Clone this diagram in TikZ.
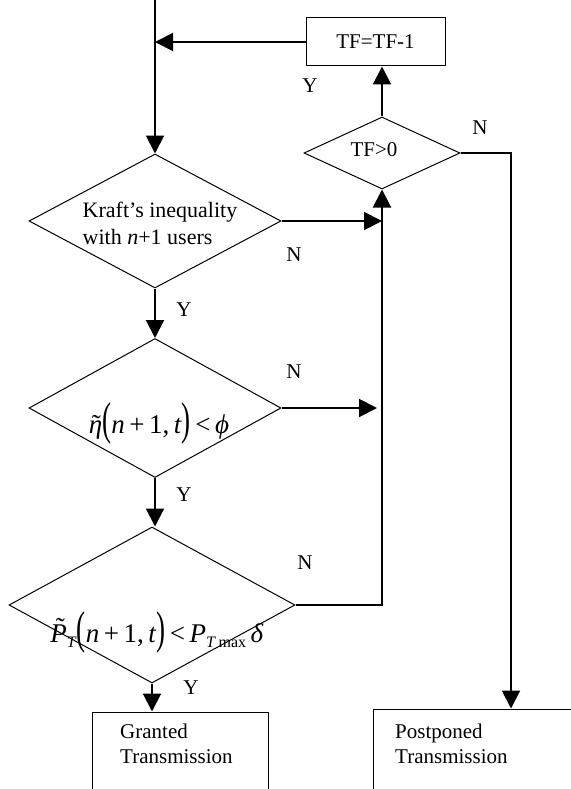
\documentclass[tikz,border=0pt]{standalone}
\usepackage{fontspec}
\setmainfont{Liberation Serif}
\usepackage{graphicx}
\usetikzlibrary{shapes.geometric,arrows.meta}

\newcommand\tildeover[3]{\ooalign{#3\cr\hidewidth\kern#1\raisebox{#2}{\char"02DC}\hidewidth\cr}}
\newcommand\tallpar[1]{\raisebox{-0.06em}{\scalebox{1}[1.7]{#1}}}
\newcommand\lowsub[1]{\raisebox{-0.2em}{\fontsize{16}{16}\selectfont #1}}

\begin{document}
\begin{tikzpicture}[x=1pt, y=-1pt,
    font=\fontsize{21}{25}\selectfont,
    decision/.style={diamond, draw, line width=1pt, inner sep=0pt},
    procbox/.style={rectangle, draw, line width=1pt, inner sep=0pt},
    flow/.style={line width=2pt, -{Triangle[length=18pt, width=18pt]}},
    answer/.style={inner sep=0pt},
    boxtext/.style={anchor=north west, align=left, inner sep=0pt},
    formula/.style={anchor=base, inner sep=0pt, font=\fontsize{27}{27}\selectfont}]
  \useasboundingbox (0,0) rectangle (570,789);
  % decisions
  \node[decision, minimum width=252pt, minimum height=134pt] (kraft) at (155,221) {};
  \node[decision, minimum width=252pt, minimum height=139pt] (eta) at (155,408) {};
  \node[decision, minimum width=286pt, minimum height=156pt] (pdec) at (152,605) {};
  \node[decision, minimum width=156pt, minimum height=72pt,
        label={[xshift=-8pt, yshift=3pt]center:TF>0}] (tfdec) at (382,153) {};
  % boxes
  \node[procbox, minimum width=139pt, minimum height=48pt] (tfbox) at (375.5,42) {TF=TF-1};
  \node[procbox, minimum width=176pt, minimum height=120pt] (grant) at (180,772) {};
  \node[procbox, minimum width=276pt, minimum height=120pt] (postp) at (511,769) {};
  % texts
  \node[align=left, inner sep=0pt, font=\fontsize{22}{27}\selectfont] (krafttxt) at (160,223)
    {Kraft’s inequality\\with \textit{n}+1 users};
  \node[formula] (etatxt) at (159,433)
    {\tildeover{0.05em}{0em}{\textit{η}}\tallpar{(}\textit{n}\,+\,1,\,\textit{t}\tallpar{)}\,<\,\textit{ϕ}};
  \node[formula] (ptxt) at (157,642)
    {\tildeover{0.12em}{0.2em}{\textit{P}}\lowsub{\textit{T}}\tallpar{(}\textit{n}\,+\,1,\,\textit{t}\tallpar{)}\,<\,\textit{P}\lowsub{\textit{T}\,max}\,\textit{δ}};
  \node[boxtext] (granttxt) at (120,723.5) {Granted\\Transmission};
  \node[boxtext] (postptxt) at (395,723.5) {Postponed\\Transmission};
  % connectors
  \coordinate (entry) at (155,0);
  \draw[flow] (entry) -- (kraft.north);
  \draw[flow] (tfbox.west) -- (tfbox.west -| entry);
  \draw[flow] (tfdec.north) -- (tfdec.north |- tfbox.south);
  \draw[flow] (tfdec.east) -| (postp.north);
  \draw[flow] (kraft.south) -- (eta.north);
  \draw[flow] (eta.south) -- (eta.south |- pdec.north);
  \draw[flow] (pdec.south) -- (pdec.south |- grant.north);
  \draw[flow] (kraft.east) -- (kraft.east -| tfdec.south);
  \draw[flow, shorten >=5pt] (eta.east) -- (eta.east -| tfdec.south);
  \draw[flow] (pdec.east) -| (tfdec.south);
  % answers
  \node[answer] (tfyes) at (310,86) {Y};
  \node[answer] (tfno) at (480,128) {N};
  \node[answer] (kraftno) at (294,255) {N};
  \node[answer] (kraftyes) at (184,310) {Y};
  \node[answer] (etano) at (294,372) {N};
  \node[answer] (etayes) at (184,495) {Y};
  \node[answer] (pno) at (305,563) {N};
  \node[answer] (pyes) at (191,688) {Y};
\end{tikzpicture}
\end{document}
